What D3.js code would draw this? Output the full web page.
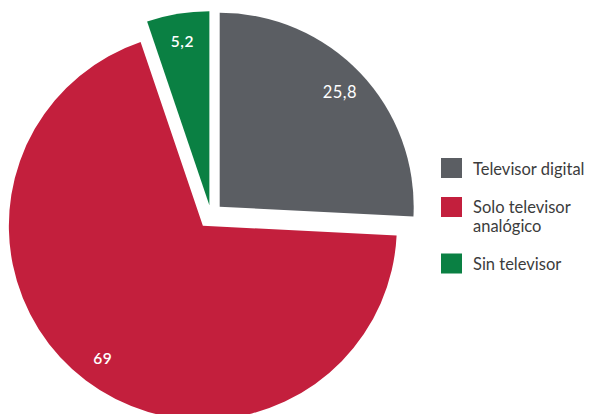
<!DOCTYPE html>
<html>
<head>
<meta charset="utf-8">
<script src="https://cdn.jsdelivr.net/npm/d3@7"></script>
<style>
  html, body { margin: 0; padding: 0; background: #ffffff; }
  svg { display: block; }
  .slice-label { fill: #ffffff; font-family: Lato, "Open Sans", sans-serif; }
  .legend-text { fill: #3c3c3c; font-family: Lato, "Open Sans", sans-serif; font-size: 16.5px; }
</style>
</head>
<body>
<div id="chart"></div>
<script>
const categories = ["Televisor digital", "Solo televisor analógico", "Sin televisor"];
const values = [25.8, 69, 5.2];
const colors = ["#5b5e63", "#c31f3d", "#0a8043"];

const WIDTH = 592;
const HEIGHT = 414;
const CENTER = { x: 211, y: 215 };
const RADIUS = 194;
const EXPLODE = [12, 13.5, 10];
const LABEL_WEIGHT = [400, 600, 600];
const ITEM_GAP = 39;
const EXTRA_LINE = 17.5;
const LINE_H = 19.5;

const locale = d3.formatLocale({ decimal: ",", thousands: ".", grouping: [3], currency: ["", "€"] });
const fmt = locale.format("~r");

const svg = d3
  .select("#chart")
  .append("svg")
  .attr("width", WIDTH)
  .attr("height", HEIGHT)
  .attr("viewBox", `0 0 ${WIDTH} ${HEIGHT}`);

const rows = categories.map((name, i) => ({ name, value: values[i], color: colors[i], index: i }));

const pie = d3.pie().sort(null).value((d) => d.value).startAngle(0).endAngle(2 * Math.PI);
const arcs = pie(rows);

const arc = d3.arc().innerRadius(0).outerRadius(RADIUS);
const labelArc = d3.arc().innerRadius(RADIUS * 0.855).outerRadius(RADIUS * 0.855);

function offset(d) {
  const mid = (d.startAngle + d.endAngle) / 2;
  const dist = EXPLODE[d.data.index];
  return [Math.sin(mid) * dist, -Math.cos(mid) * dist];
}

const slices = svg
  .append("g")
  .attr("class", "slices")
  .attr("transform", `translate(${CENTER.x},${CENTER.y})`);

const sliceG = slices
  .selectAll("g")
  .data(arcs)
  .join("g")
  .attr("transform", (d) => `translate(${offset(d)[0]},${offset(d)[1]})`);

sliceG.append("path").attr("d", arc).attr("fill", (d) => d.data.color);

sliceG
  .append("text")
  .attr("class", "slice-label")
  .attr("transform", (d) => `translate(${labelArc.centroid(d)})`)
  .attr("text-anchor", "middle")
  .attr("dy", "0.36em")
  .style("font-size", (d) => (d.data.index === 0 ? "16.5px" : "15.5px"))
  .style("font-weight", (d) => LABEL_WEIGHT[d.data.index])
  .style("letter-spacing", "0.5px")
  .text((d) => fmt(d.data.value));

// legend, items stacked by their wrapped line count
const legend = svg.append("g").attr("class", "legend").attr("transform", "translate(441,158)");

let cursor = 0;
rows.forEach((d) => {
  const g = legend.append("g").attr("transform", `translate(0,${cursor})`);
  g.append("rect").attr("width", 21).attr("height", 20).attr("fill", d.color);

  const text = g.append("text").attr("class", "legend-text").attr("x", 32).attr("y", 16.5);
  const words = d.name.split(" ");
  let line = [];
  let lines = 1;
  let tspan = text.append("tspan").attr("x", 32).attr("dy", 0);
  words.forEach((w) => {
    line.push(w);
    tspan.text(line.join(" "));
    if (tspan.node().getComputedTextLength() > 118 && line.length > 1) {
      line.pop();
      tspan.text(line.join(" "));
      line = [w];
      lines += 1;
      tspan = text.append("tspan").attr("x", 32).attr("dy", LINE_H).text(w);
    }
  });
  if (lines > 1) text.attr("y", 16.5 - (LINE_H - EXTRA_LINE) / 2);
  cursor += ITEM_GAP + (lines - 1) * EXTRA_LINE;
});
</script>
</body>
</html>
